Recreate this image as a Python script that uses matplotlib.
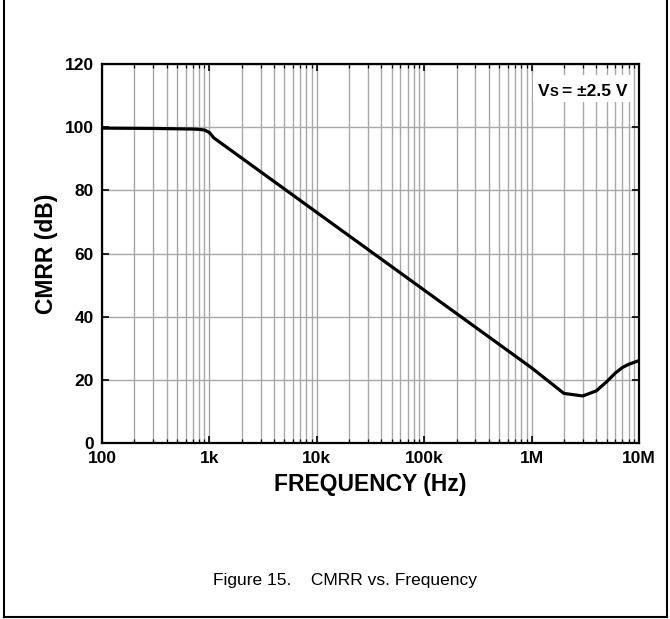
import matplotlib
matplotlib.use("Agg")
import matplotlib.pyplot as plt
from matplotlib.ticker import LogLocator, FixedLocator, NullFormatter
from matplotlib.lines import Line2D
from matplotlib.patches import Rectangle
from matplotlib.transforms import offset_copy

freq_hz = [100, 300, 700, 800, 900, 1e3, 1.1e3, 10e3, 100e3, 1e6, 2e6, 3e6, 4e6, 5e6, 6e6, 7e6, 8e6, 10e6]
cmrr_db = [99.7, 99.6, 99.4, 99.3, 99.1, 98.3, 96.6, 73.0, 48.4, 23.8, 15.7, 14.9, 16.5, 19.4, 22.1, 23.9, 24.9, 26.1]

x_ticks = [1e2, 1e3, 1e4, 1e5, 1e6, 1e7]
x_tick_labels = ["100", "1k", "10k", "100k", "1M", "10M"]
y_ticks = [0, 20, 40, 60, 80, 100, 120]

plt.rcParams['font.family'] = ['Liberation Sans', 'DejaVu Sans']

fig = plt.figure(figsize=(6.7, 6.19), dpi=100)
ax = fig.add_axes([102/670, 1-443/619, (639-102)/670, (443-64)/619])

ax.set_xscale('log')
ax.set_xlim(1e2, 1e7)
ax.set_ylim(0, 120)

ax.xaxis.set_major_locator(FixedLocator(x_ticks))
ax.set_xticklabels(x_tick_labels)
ax.xaxis.set_minor_locator(LogLocator(base=10, subs=range(2, 10), numticks=20))
ax.xaxis.set_minor_formatter(NullFormatter())
ax.set_yticks(y_ticks)

ax.grid(True, which='both', axis='x', color='#a8a8a8', linewidth=1.0)
ax.grid(True, which='major', axis='y', color='#a8a8a8', linewidth=1.0)
ax.set_axisbelow(True)

ax.plot(freq_hz, cmrr_db, color='black', linewidth=2.3, solid_capstyle='butt', zorder=3)

for s in ax.spines.values():
    s.set_linewidth(1.6)
    s.set_color('black')
    s.set_zorder(5)

ax.tick_params(axis='both', which='major', direction='in', length=5, width=1.2,
               top=True, right=True, labelsize=12.5, pad=6)
ax.tick_params(axis='both', which='minor', direction='in', length=3, width=0.9,
               top=True, right=True)
for lab in ax.get_xticklabels() + ax.get_yticklabels():
    lab.set_fontweight('bold')

ax.set_xlabel('FREQUENCY (Hz)', fontsize=16.5, fontweight='bold', labelpad=5)
ax.set_ylabel('CMRR (dB)', fontsize=16.5, fontweight='bold', labelpad=5)

# white box behind the condition label
ax.add_patch(Rectangle(((533-102)/537, (443-102)/379), (632-533)/537, (102-75)/379,
                       transform=ax.transAxes, facecolor='white', edgecolor='none', zorder=1))

# "VS = ±2.5 V" with small-cap S on the baseline
bx, by = (628-102)/537, (443-95.5)/379
t_main = ax.text(bx, by, '= ±2.5 V', transform=ax.transAxes, ha='right', va='baseline',
                 fontsize=12.5, fontweight='bold', zorder=4)
fig.canvas.draw()
r = fig.canvas.get_renderer()
w1 = t_main.get_window_extent(r).width
t_s = ax.text(bx, by, 'S', transform=offset_copy(ax.transAxes, fig, x=-w1 - 4, y=0, units='dots'),
              ha='right', va='baseline', fontsize=9.5, fontweight='bold', zorder=4)
w2 = t_s.get_window_extent(r).width
ax.text(bx, by, 'V', transform=offset_copy(ax.transAxes, fig, x=-w1 - 4 - w2, y=0, units='dots'),
        ha='right', va='baseline', fontsize=12.5, fontweight='bold', zorder=4)

fig.text(345/670, 1-580/619, 'Figure 15.    CMRR vs. Frequency', ha='center', va='center',
         fontsize=12.5, family=['Liberation Sans', 'DejaVu Sans'])

# page frame (left, right, bottom)
fr = dict(color='black', linewidth=1.5, transform=fig.transFigure)
fig.add_artist(Line2D([4/670, 4/670], [1-617/619, 1.0], **fr))
fig.add_artist(Line2D([667/670, 667/670], [1-617/619, 1.0], **fr))
fig.add_artist(Line2D([4/670, 667/670], [1-617/619, 1-617/619], **fr))

fig.savefig('out.png', dpi=100)
